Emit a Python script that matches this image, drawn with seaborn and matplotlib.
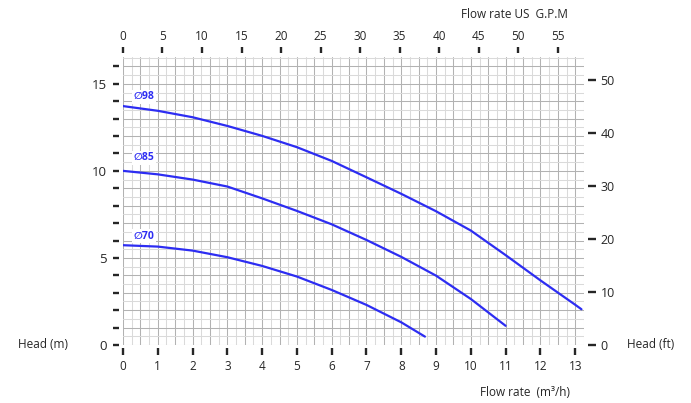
import numpy as np
import pandas as pd
import seaborn as sns
import matplotlib.pyplot as plt

# flow rate (m3/h) and head (m) for each impeller
flow_98 = [0, 1, 2, 3, 4, 5, 6, 7, 8, 9, 10, 11, 12, 13, 13.18]
head_98 = [13.72, 13.45, 13.08, 12.58, 12.01, 11.36, 10.57, 9.63, 8.68, 7.68, 6.57, 5.16, 3.71, 2.31, 2.05]
flow_85 = [0, 1, 2, 3, 4, 5, 6, 7, 8, 9, 10, 11]
head_85 = [10.0, 9.8, 9.5, 9.1, 8.42, 7.7, 6.93, 6.03, 5.06, 3.98, 2.64, 1.1]
flow_70 = [0, 1, 2, 3, 4, 5, 6, 7, 8, 8.68]
head_70 = [5.73, 5.65, 5.42, 5.04, 4.54, 3.93, 3.16, 2.3, 1.3, 0.48]

curve_names = ['\u220598', '\u220585', '\u220570']
label_pos = [(0.3, 14.25), (0.3, 10.75), (0.3, 6.25)]

bottom_ticks = list(range(0, 14))
left_ticks = list(range(0, 17))
left_labels = ['0' if t == 0 else (str(t) if t % 5 == 0 else '') for t in left_ticks]
top_ticks = list(range(0, 60, 5))
right_ticks = list(range(0, 60, 10))

M3H_TO_GPM = 4.403
M_TO_FT = 3.281

frames = []
for name, f, h in zip(curve_names, [flow_98, flow_85, flow_70], [head_98, head_85, head_70]):
    frames.append(pd.DataFrame({'flow': f, 'head': h, 'curve': name}))
df = pd.concat(frames, ignore_index=True)

sns.set_style('white')
plt.rcParams['font.family'] = ['Open Sans', 'DejaVu Sans']

blue = '#2d2df2'
fig = plt.figure(figsize=(6.91, 4.03), dpi=100)
ax = fig.add_axes([0.178, 0.144, 0.667, 0.715])

xmax, ymax = 13.25, 16.55
ax.set_xlim(0, xmax)
ax.set_ylim(0, ymax)

# grid: light lines at quarter / half steps, darker ones at half / whole steps
for x in np.arange(0, xmax + 0.01, 0.25):
    c = '#b2b2b2' if abs(x * 2 - round(x * 2)) < 1e-6 else '#dadada'
    ax.axvline(x, color=c, lw=0.75, zorder=0)
for y in np.arange(0, ymax + 0.01, 0.5):
    c = '#b2b2b2' if abs(y - round(y)) < 1e-6 else '#dadada'
    ax.axhline(y, color=c, lw=0.75, zorder=0)

sns.lineplot(data=df, x='flow', y='head', hue='curve', palette=[blue] * 3,
             linewidth=1.6, legend=False, ax=ax, sort=False)

for name, (lx, ly) in zip(curve_names, label_pos):
    ax.text(lx, ly, name, color=blue, fontsize=7.5, fontweight='bold', va='center', ha='left',
            bbox=dict(facecolor='white', edgecolor='none', pad=1.0), zorder=5)

ax.set_xlabel('')
ax.set_ylabel('')
ax.set_xticks(bottom_ticks)
ax.set_yticks(left_ticks)
ax.set_yticklabels(left_labels)
for s in ax.spines.values():
    s.set_visible(False)
ax.spines['bottom'].set_position(('outward', 2.5))
ax.spines['left'].set_position(('outward', 3))
ax.tick_params(axis='x', direction='out', length=5, width=1.7, pad=3, labelsize=8.5, bottom=True)
ax.tick_params(axis='y', direction='out', length=4.5, width=1.7, pad=4, labelsize=9.5, left=True)

# top axis in US GPM
axt = ax.twiny()
axt.set_xlim(0, xmax * M3H_TO_GPM)
axt.set_xticks(top_ticks)
for s in axt.spines.values():
    s.set_visible(False)
axt.spines['top'].set_position(('outward', 3))
axt.tick_params(axis='x', direction='out', length=4.5, width=1.7, pad=2.5, labelsize=8.5, top=True)

# right axis in feet
axr = ax.twinx()
axr.set_ylim(0, ymax * M_TO_FT)
axr.set_yticks(right_ticks)
for s in axr.spines.values():
    s.set_visible(False)
axr.spines['right'].set_position(('outward', 3))
axr.tick_params(axis='y', direction='out', length=6, width=1.7, pad=3, labelsize=9, right=True)

fig.text(18 / 691, 1 - 345 / 403, 'Head (m)', fontsize=8.5, va='center', ha='left')
fig.text(627 / 691, 1 - 345 / 403, 'Head (ft)', fontsize=8.5, va='center', ha='left')
fig.text(525 / 691, 1 - 393 / 403, 'Flow rate  (m\u00b3/h)', fontsize=8.5, va='center', ha='center')
fig.text(514 / 691, 1 - 15 / 403, 'Flow rate US  G.P.M', fontsize=8.5, va='center', ha='center')

fig.savefig('out.png', dpi=100)
